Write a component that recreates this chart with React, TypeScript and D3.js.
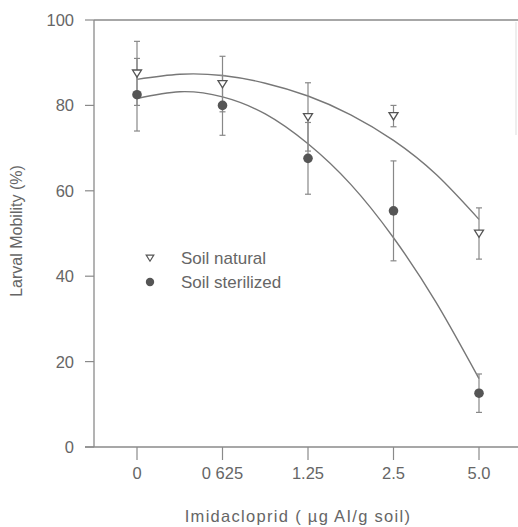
import React from "react";
import * as d3 from "d3";

const categories = ["0", "0 625", "1.25", "2.5", "5.0"];
const naturalMean = [87.5, 85, 77.3, 77.5, 50];
const naturalErr = [7.5, 6.5, 8, 2.5, 6];
const sterilizedMean = [82.5, 80, 67.6, 55.3, 12.6];
const sterilizedErr = [8.5, 7, 8.4, 11.7, 4.5];

const curveIdx = [0, 0.5, 1, 1.5, 2, 2.5, 3, 3.5, 4];
const naturalCurve = [86.1, 87.3, 87.0, 85.2, 82.2, 77.8, 71.8, 63.8, 53.3];
const sterilizedCurve = [81.6, 83.2, 82.0, 78.0, 71.0, 61.5, 49.0, 33.8, 16.0];

const yTicks = [0, 20, 40, 60, 80, 100];

const FONT = "'Liberation Sans', Arial, sans-serif";
const AXIS = "#8a8a8a";
const TEXT = "#666";
const MARK = "#555";
const ERR = "#888";

export default function App() {
  const y = d3.scaleLinear().domain([0, 100]).range([447, 20]);
  const x = d3.scalePoint<string>().domain(categories).range([137, 479]);
  const xi = d3.scaleLinear().domain([0, categories.length - 1]).range([137, 479]);
  const line = d3
    .line<[number, number]>()
    .x((d) => xi(d[0]))
    .y((d) => y(d[1]))
    .curve(d3.curveNatural);
  const natPath = line(curveIdx.map((c, i) => [c, naturalCurve[i]] as [number, number]));
  const sterPath = line(curveIdx.map((c, i) => [c, sterilizedCurve[i]] as [number, number]));

  const tri = (cx: number, cy: number, s = 4.5) =>
    `M${cx - s},${cy - s * 0.75} L${cx + s},${cy - s * 0.75} L${cx},${cy + s * 0.85} Z`;

  const errBar = (cx: number, m: number, e: number, key: string) => (
    <g key={key} stroke={ERR} strokeWidth={1.2}>
      <line x1={cx} x2={cx} y1={y(m + e)} y2={y(m - e)} />
      <line x1={cx - 3} x2={cx + 3} y1={y(m + e)} y2={y(m + e)} />
      <line x1={cx - 3} x2={cx + 3} y1={y(m - e)} y2={y(m - e)} />
    </g>
  );

  return (
    <svg
      width={518}
      height={527}
      style={{ position: "absolute", left: 0, top: 0, background: "#fff" }}
      fontFamily={FONT}
    >
      {/* frame */}
      <line x1={94} x2={518} y1={20} y2={20} stroke={AXIS} strokeWidth={1.3} />
      <line x1={94} x2={94} y1={20} y2={447} stroke={AXIS} strokeWidth={1.3} />
      <line x1={85} x2={518} y1={447} y2={447} stroke={AXIS} strokeWidth={1.3} />
      <line x1={516} x2={516} y1={22} y2={135} stroke="#ddd" strokeWidth={1} />

      {/* y ticks */}
      {yTicks.map((t) => (
        <g key={"y" + t}>
          <line x1={85} x2={94} y1={y(t)} y2={y(t)} stroke={AXIS} strokeWidth={1.2} />
          <text x={74} y={y(t) + 6} textAnchor="end" fontSize={16.5} fill={TEXT}>
            {t}
          </text>
        </g>
      ))}

      {/* x ticks */}
      {categories.map((c) => (
        <g key={"x" + c}>
          <line x1={x(c)!} x2={x(c)!} y1={447} y2={460} stroke={AXIS} strokeWidth={1.2} />
          <text x={x(c)!} y={479} textAnchor="middle" fontSize={16.5} fill={TEXT}>
            {c}
          </text>
        </g>
      ))}

      {/* axis titles */}
      <text x={298} y={522} textAnchor="middle" fontSize={16.5} fill={TEXT} letterSpacing={1.3}>
        Imidacloprid ( µg AI/g soil)
      </text>
      <text
        transform="translate(22,231) rotate(-90)"
        textAnchor="middle"
        fontSize={16}
        fill={TEXT}
      >
        Larval Mobility (%)
      </text>

      {/* curves */}
      <path d={natPath ?? ""} fill="none" stroke="#777" strokeWidth={1.4} />
      <path d={sterPath ?? ""} fill="none" stroke="#777" strokeWidth={1.4} />

      {/* error bars */}
      {categories.map((c, i) => errBar(x(c)!, naturalMean[i], naturalErr[i], "ne" + i))}
      {categories.map((c, i) => errBar(x(c)!, sterilizedMean[i], sterilizedErr[i], "se" + i))}

      {/* markers */}
      {categories.map((c, i) => (
        <path key={"nm" + i} d={tri(x(c)!, y(naturalMean[i]))} fill="#fff" stroke={MARK} strokeWidth={1.3} />
      ))}
      {categories.map((c, i) => (
        <circle key={"sm" + i} cx={x(c)!} cy={y(sterilizedMean[i])} r={4.8} fill={MARK} />
      ))}

      {/* legend */}
      <path d={tri(150, 258, 3.8)} fill="#fff" stroke={MARK} strokeWidth={1.2} />
      <text x={181} y={264} fontSize={17} fill={TEXT}>
        Soil natural
      </text>
      <circle cx={150} cy={282} r={4.2} fill={MARK} />
      <text x={181} y={288} fontSize={17} fill={TEXT}>
        Soil sterilized
      </text>
    </svg>
  );
}
